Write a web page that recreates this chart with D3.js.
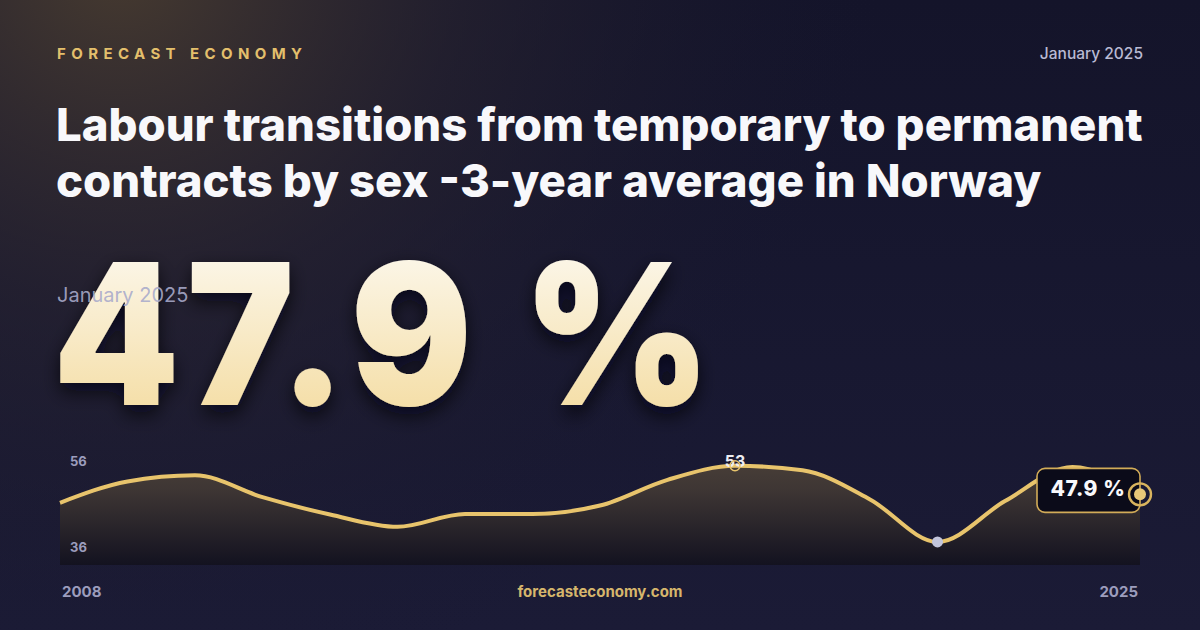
<!DOCTYPE html>
<html>
<head>
<meta charset="utf-8">
<script src="https://cdn.jsdelivr.net/npm/d3@7"></script>
<style>
  html, body { margin: 0; padding: 0; background: #17172e; }
  svg { display: block; }
</style>
</head>
<body>
<svg id="card" width="1200" height="630"></svg>
<script>
// chart values
const periods = ['2008', '2009', '2010', '2011', '2012', '2013', '2014', '2015', '2016',
                 '2017', '2018', '2019', '2020', '2021', '2022', '2023', '2024'];
const values = [46.4, 50.2, 51.3, 47.4, 44.3, 42.1, 44.4, 44.4, 45.9,
                50.5, 53.0, 52.2, 47.0, 39.4, 46.7, 52.8, 47.9];
const yTicks = [36, 56];
const xLabels = ['2008', '2025'];
const titleLines = ['Labour transitions from temporary to permanent',
                    'contracts by sex -3-year average in Norway'];
const brand = 'FORECAST ECONOMY';
const dateLabel = 'January 2025';
const headline = '47.9 %';
const site = 'forecasteconomy.com';

const colors = {
  'gold': '#e8c46c',
  'brand': '#e3bf6c',
  'muted': '#9c9dbd',
  'date': '#b9bad4',
  'white': '#f8f8fb',
  'min': '#c2c5dc'
};

const W = 1200, H = 630;
const svg = d3.select('#card');
const defs = svg.append('defs');

// background: navy with a warm glow top-left
let bgGlow = defs.append('radialGradient')
  .attr('id', 'glow')
  .attr('gradientUnits', 'userSpaceOnUse')
  .attr('cx', 120).attr('cy', -40).attr('r', 760);
bgGlow.append('stop').attr('offset', 0).attr('stop-color', '#4a3d30').attr('stop-opacity', 0.95);
bgGlow.append('stop').attr('offset', 0.45).attr('stop-color', '#2a2530').attr('stop-opacity', 0.6);
bgGlow.append('stop').attr('offset', 1).attr('stop-color', '#17172e').attr('stop-opacity', 0);

let bgBase = defs.append('linearGradient')
  .attr('id', 'base').attr('x1', 0).attr('y1', 0).attr('x2', 0).attr('y2', 1);
bgBase.append('stop').attr('offset', 0).attr('stop-color', '#14142a');
bgBase.append('stop').attr('offset', 1).attr('stop-color', '#1b1b36');

svg.append('rect').attr('width', W).attr('height', H).attr('fill', 'url(#base)');
svg.append('rect').attr('width', W).attr('height', H).attr('fill', 'url(#glow)');

// header
svg.append('text')
  .text(brand)
  .attr('x', 57).attr('y', 59)
  .attr('font-family', 'Inter').attr('font-weight', 700)
  .attr('font-size', 15).attr('letter-spacing', 5.4)
  .attr('fill', colors['brand']);

svg.append('text')
  .text(dateLabel)
  .attr('x', 1143).attr('y', 59)
  .attr('text-anchor', 'end')
  .attr('font-family', 'Inter').attr('font-weight', 500)
  .attr('font-size', 15.5)
  .attr('fill', colors['date']);

svg.selectAll('.title')
  .data(titleLines)
  .enter().append('text')
  .attr('class', 'title')
  .text(function(d) { return d; })
  .attr('x', 56)
  .attr('y', function(d, i) { return 141 + i * 56; })
  .attr('font-family', 'Inter').attr('font-weight', 800)
  .attr('font-size', 45.5)
  .attr('fill', colors['white']);

// big headline number
let numGrad = defs.append('linearGradient')
  .attr('id', 'numGrad').attr('x1', 0).attr('y1', 0).attr('x2', 0).attr('y2', 1);
numGrad.append('stop').attr('offset', 0).attr('stop-color', '#fdfcf8');
numGrad.append('stop').attr('offset', 1).attr('stop-color', '#f3d896');

let shadow = defs.append('filter').attr('id', 'shadow')
  .attr('x', '-10%').attr('y', '-10%').attr('width', '120%').attr('height', '130%');
shadow.append('feDropShadow')
  .attr('dx', 0).attr('dy', 8).attr('stdDeviation', 10)
  .attr('flood-color', '#05050c').attr('flood-opacity', 0.75);

svg.append('text')
  .text(headline)
  .attr('x', 0).attr('y', 0)
  .attr('transform', 'translate(53,405) scale(0.92,1)')
  .attr('font-family', 'Inter').attr('font-weight', 900)
  .attr('font-size', 196).attr('letter-spacing', 8)
  .attr('fill', 'url(#numGrad)')
  .attr('filter', 'url(#shadow)');

svg.append('text')
  .text(dateLabel)
  .attr('x', 57).attr('y', 302)
  .attr('font-family', 'Inter').attr('font-weight', 400)
  .attr('font-size', 20)
  .attr('fill', '#a9abcb').attr('fill-opacity', 0.9);

// sparkline
const plot = {left: 60, right: 1140, top: 449, bottom: 565};

let x = d3.scalePoint()
  .domain(periods)
  .range([plot.left, plot.right]);

let y = d3.scaleLinear()
  .domain(d3.extent(yTicks))
  .range([561, plot.top]);

let areaGrad = defs.append('linearGradient')
  .attr('id', 'areaGrad')
  .attr('gradientUnits', 'userSpaceOnUse')
  .attr('x1', 0).attr('y1', plot.top).attr('x2', 0).attr('y2', plot.bottom);
areaGrad.append('stop').attr('offset', 0).attr('stop-color', '#4d4239');
areaGrad.append('stop').attr('offset', 0.35).attr('stop-color', '#3e3634');
areaGrad.append('stop').attr('offset', 1).attr('stop-color', '#131220');

let series = periods.map(function(p, i) { return {period: p, value: values[i]}; });

let area = d3.area()
  .x(function(d) { return x(d.period); })
  .y0(plot.bottom)
  .y1(function(d) { return y(d.value); })
  .curve(d3.curveMonotoneX);

let line = d3.line()
  .x(function(d) { return x(d.period); })
  .y(function(d) { return y(d.value); })
  .curve(d3.curveMonotoneX);

svg.append('path')
  .datum(series)
  .attr('d', area)
  .attr('fill', 'url(#areaGrad)');

svg.append('path')
  .datum(series)
  .attr('d', line)
  .attr('fill', 'none')
  .attr('stroke', colors['gold'])
  .attr('stroke-width', 4)
  .attr('stroke-linejoin', 'round');

// y labels (max at top, min at bottom)
svg.selectAll('.ylab')
  .data(yTicks)
  .enter().append('text')
  .attr('class', 'ylab')
  .text(function(d) { return d; })
  .attr('x', 70)
  .attr('y', function(d, i) { return i == 0 ? 552 : 466; })
  .attr('font-family', 'Inter').attr('font-weight', 700)
  .attr('font-size', 13)
  .attr('fill', colors['muted']);

// min & max markers
let maxPt = series[d3.maxIndex(series, function(d) { return d.value; })];
let minPt = series[d3.minIndex(series, function(d) { return d.value; })];

svg.append('text')
  .text(d3.format('d')(maxPt.value))
  .attr('x', x(maxPt.period)).attr('y', y(maxPt.value) + 1)
  .attr('text-anchor', 'middle')
  .attr('font-family', 'Inter').attr('font-weight', 700)
  .attr('font-size', 16)
  .attr('fill', '#ececf2');

svg.append('circle')
  .attr('cx', x(maxPt.period)).attr('cy', y(maxPt.value))
  .attr('r', 5)
  .attr('fill', 'none')
  .attr('stroke', colors['gold'])
  .attr('stroke-width', 1.5);

svg.append('circle')
  .attr('cx', x(minPt.period)).attr('cy', y(minPt.value))
  .attr('r', 5.5)
  .attr('fill', colors['min']);

// last value callout
let last = series[series.length - 1];
let lx = x(last.period), ly = y(last.value);

svg.append('rect')
  .attr('x', lx - 103).attr('y', ly - 26)
  .attr('width', 103).attr('height', 44)
  .attr('rx', 8)
  .attr('fill', '#0b0b19')
  .attr('stroke', '#d2ac58')
  .attr('stroke-width', 1.6);

svg.append('text')
  .text(headline)
  .attr('x', lx - 52).attr('y', ly + 2)
  .attr('text-anchor', 'middle')
  .attr('font-family', 'Inter').attr('font-weight', 800)
  .attr('font-size', 21).attr('letter-spacing', 0.6)
  .attr('fill', colors['white']);

svg.append('circle')
  .attr('cx', lx).attr('cy', ly)
  .attr('r', 11)
  .attr('fill', 'none')
  .attr('stroke', '#d9b45e')
  .attr('stroke-width', 2.4);

svg.append('circle')
  .attr('cx', lx).attr('cy', ly)
  .attr('r', 6)
  .attr('fill', '#e8c878');

// footer
svg.append('text')
  .text(xLabels[0])
  .attr('x', 62).attr('y', 597)
  .attr('font-family', 'Inter').attr('font-weight', 700)
  .attr('font-size', 15)
  .attr('fill', colors['muted']);

svg.append('text')
  .text(xLabels[1])
  .attr('x', 1138).attr('y', 597)
  .attr('text-anchor', 'end')
  .attr('font-family', 'Inter').attr('font-weight', 700)
  .attr('font-size', 15)
  .attr('fill', colors['muted']);

svg.append('text')
  .text(site)
  .attr('x', 600).attr('y', 597)
  .attr('text-anchor', 'middle')
  .attr('font-family', 'Inter').attr('font-weight', 700)
  .attr('font-size', 15)
  .attr('fill', '#d6b66c');
</script>
</body>
</html>
